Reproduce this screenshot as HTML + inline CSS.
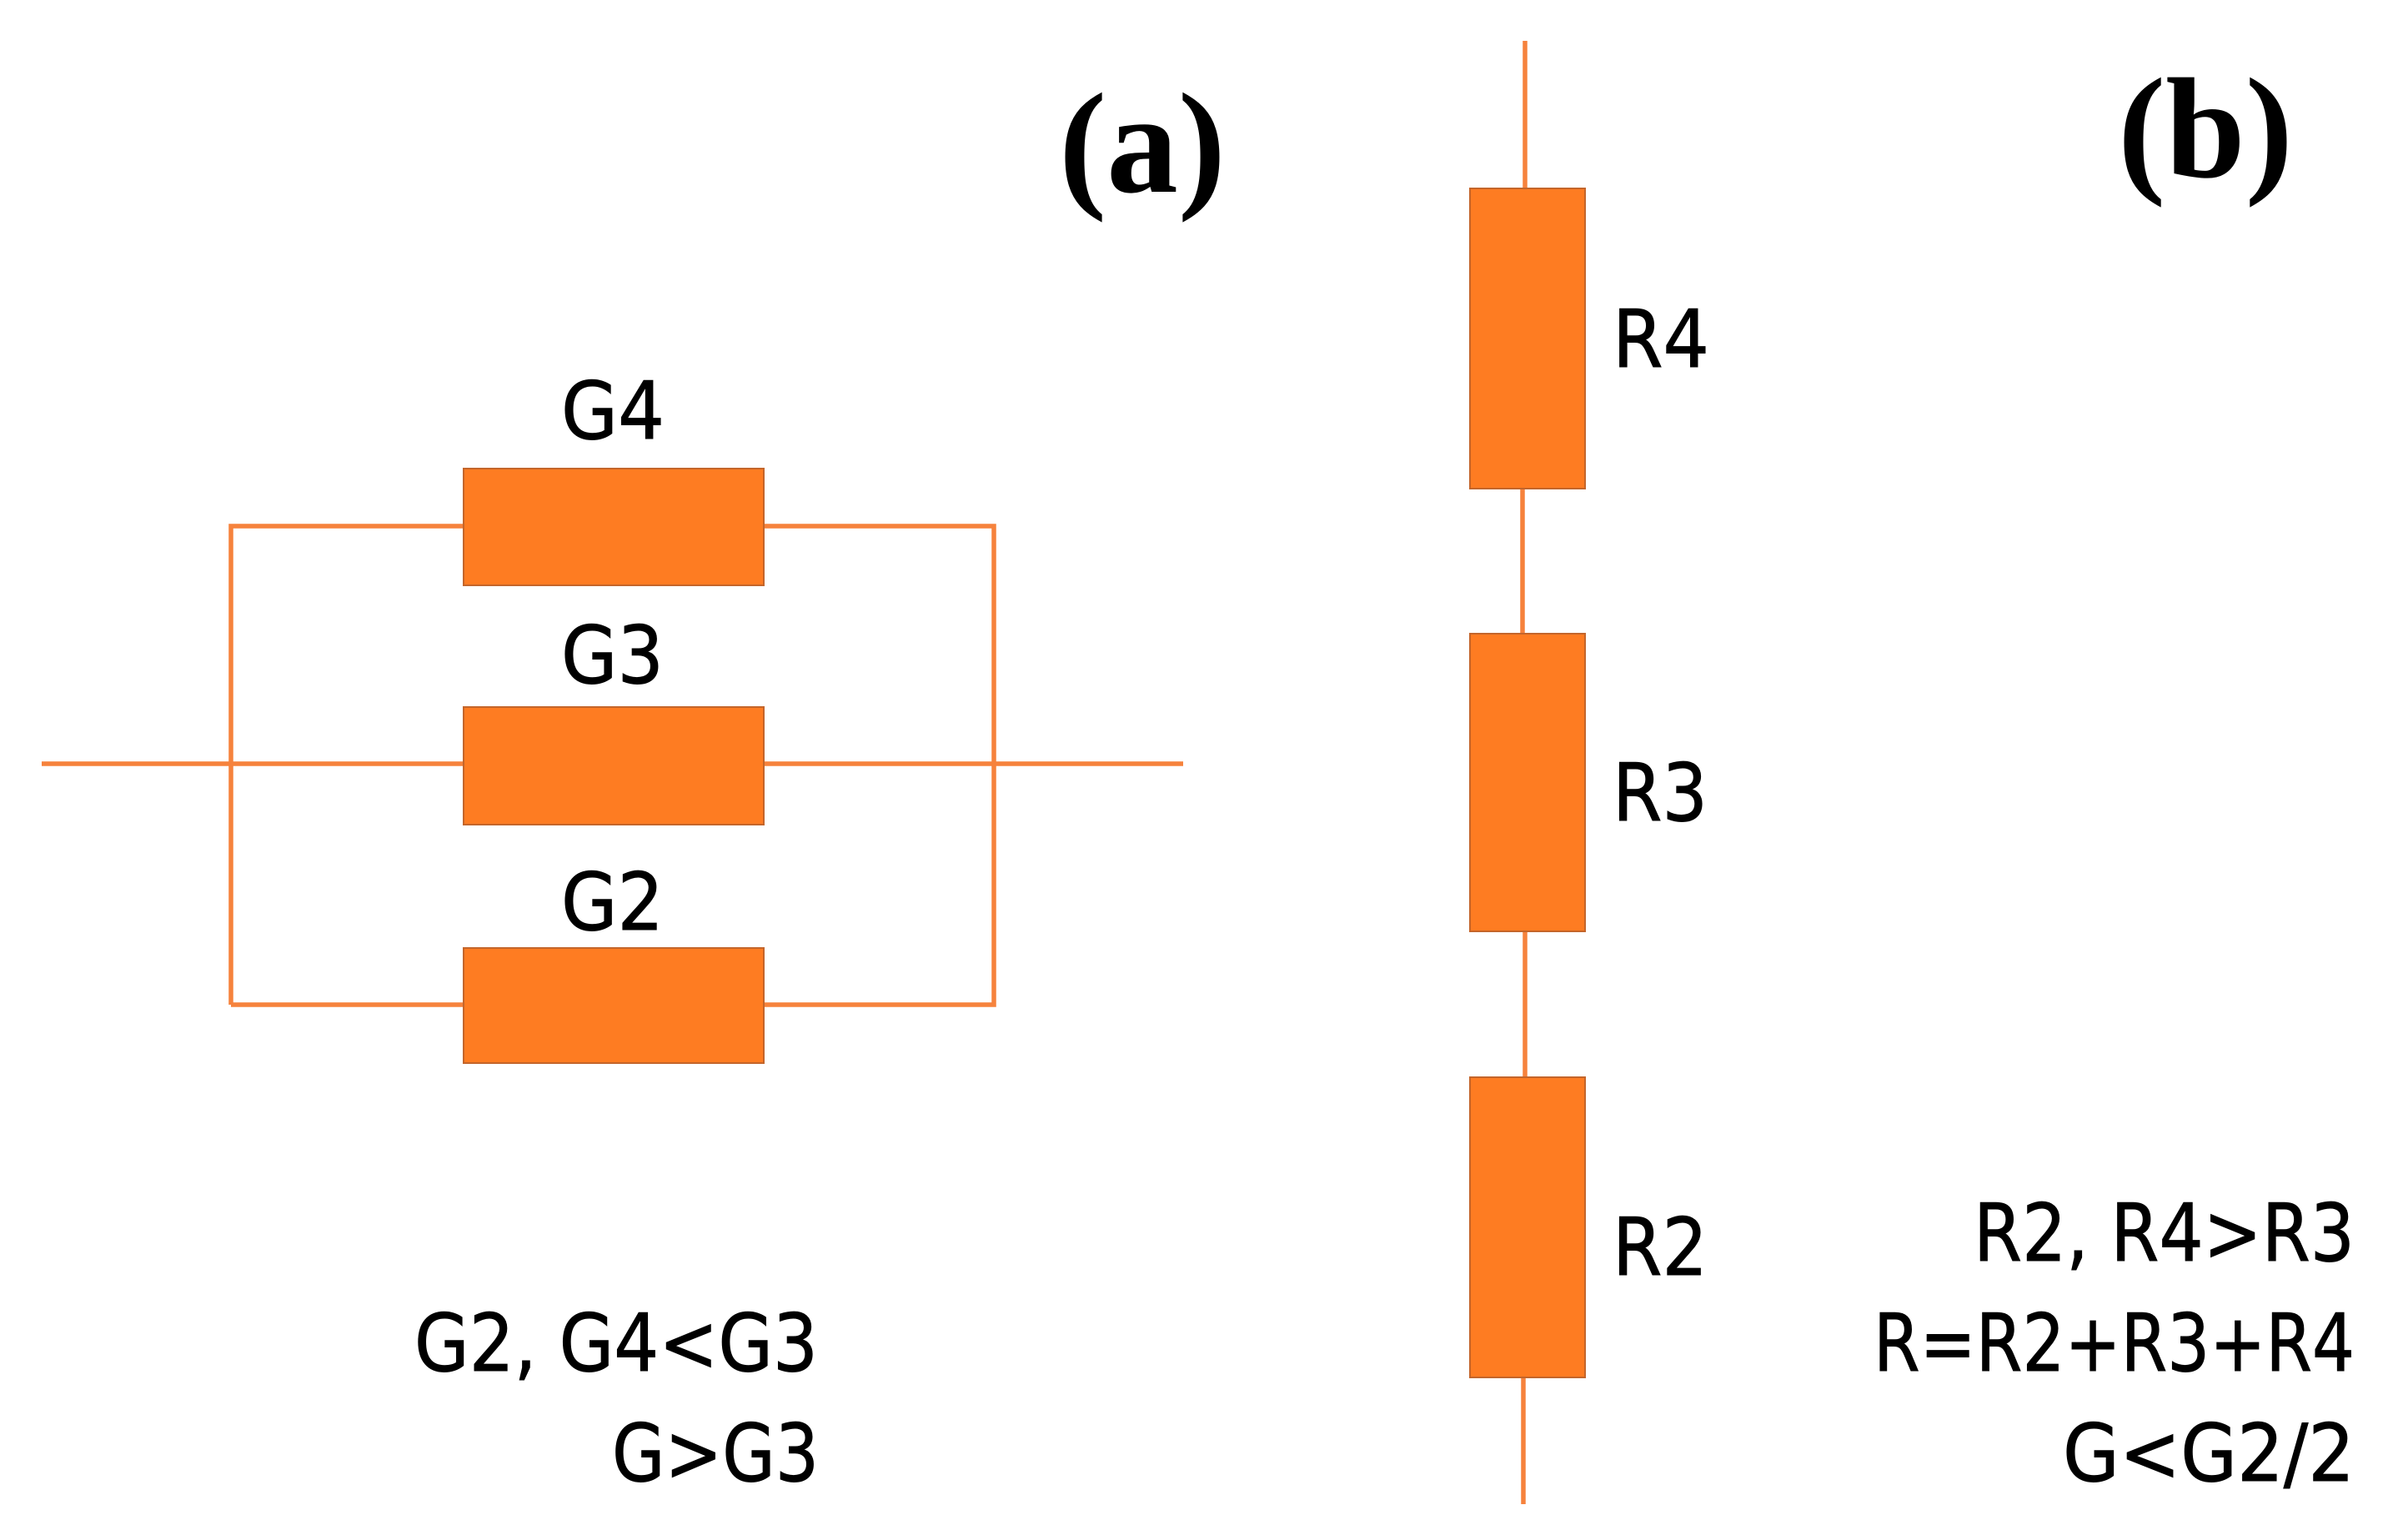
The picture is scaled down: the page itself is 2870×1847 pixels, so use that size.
<!DOCTYPE html>
<html><head><meta charset="utf-8"><style>
html,body{margin:0;padding:0;background:#fff}
svg{display:block}
.t{font-family:"DejaVu Sans",sans-serif;font-size:95px;fill:#000;stroke:#000;stroke-width:1}
.h{font-family:"Liberation Serif",serif;font-weight:bold;font-size:172px;fill:#000}
.r{fill:#fe7c22;stroke:#c4652a;stroke-width:2}
.l{stroke:#f6823c;stroke-width:5.5;fill:none}
</style></head><body>
<svg width="2870" height="1847" viewBox="0 0 2870 1847" xmlns="http://www.w3.org/2000/svg">
<rect width="2870" height="1847" fill="#fff"/>
<path class="l" d="M277 1205V631H556M277 1205H556M50 916H556M916 631H1192V1205H916M916 916H1419"/>
<rect class="r" x="556" y="562" width="360" height="140"/>
<rect class="r" x="556" y="848" width="360" height="141"/>
<rect class="r" x="556" y="1137" width="360" height="138"/>
<path class="l" d="M1829 49V225M1826 586V760M1829 1116V1292M1827 1651V1804"/>
<rect class="r" x="1763" y="226" width="138" height="360"/>
<rect class="r" x="1763" y="760" width="138" height="357"/>
<rect class="r" x="1763" y="1292" width="138" height="360"/>
<text class="h" x="1270" y="230" textLength="200" lengthAdjust="spacingAndGlyphs">(a)</text>
<text class="h" x="2540" y="212" textLength="210" lengthAdjust="spacingAndGlyphs">(b)</text>
<text class="t" x="673" y="526" textLength="124" lengthAdjust="spacingAndGlyphs">G4</text>
<text class="t" x="673" y="819" textLength="123" lengthAdjust="spacingAndGlyphs">G3</text>
<text class="t" x="673" y="1115" textLength="123" lengthAdjust="spacingAndGlyphs">G2</text>
<text class="t" x="1934" y="440" textLength="116" lengthAdjust="spacingAndGlyphs">R4</text>
<text class="t" x="1934" y="984" textLength="114" lengthAdjust="spacingAndGlyphs">R3</text>
<text class="t" x="1934" y="1529" textLength="114" lengthAdjust="spacingAndGlyphs">R2</text>
<text class="t" x="497" y="1644" textLength="484" lengthAdjust="spacingAndGlyphs">G2, G4&lt;G3</text>
<text class="t" x="734" y="1776" textLength="248" lengthAdjust="spacingAndGlyphs">G&gt;G3</text>
<text class="t" x="2367" y="1512" textLength="457" lengthAdjust="spacingAndGlyphs">R2, R4&gt;R3</text>
<text class="t" x="2247" y="1644" textLength="577" lengthAdjust="spacingAndGlyphs">R=R2+R3+R4</text>
<text class="t" x="2474" y="1776" textLength="350" lengthAdjust="spacingAndGlyphs">G&lt;G2/2</text>
</svg>
</body></html>
